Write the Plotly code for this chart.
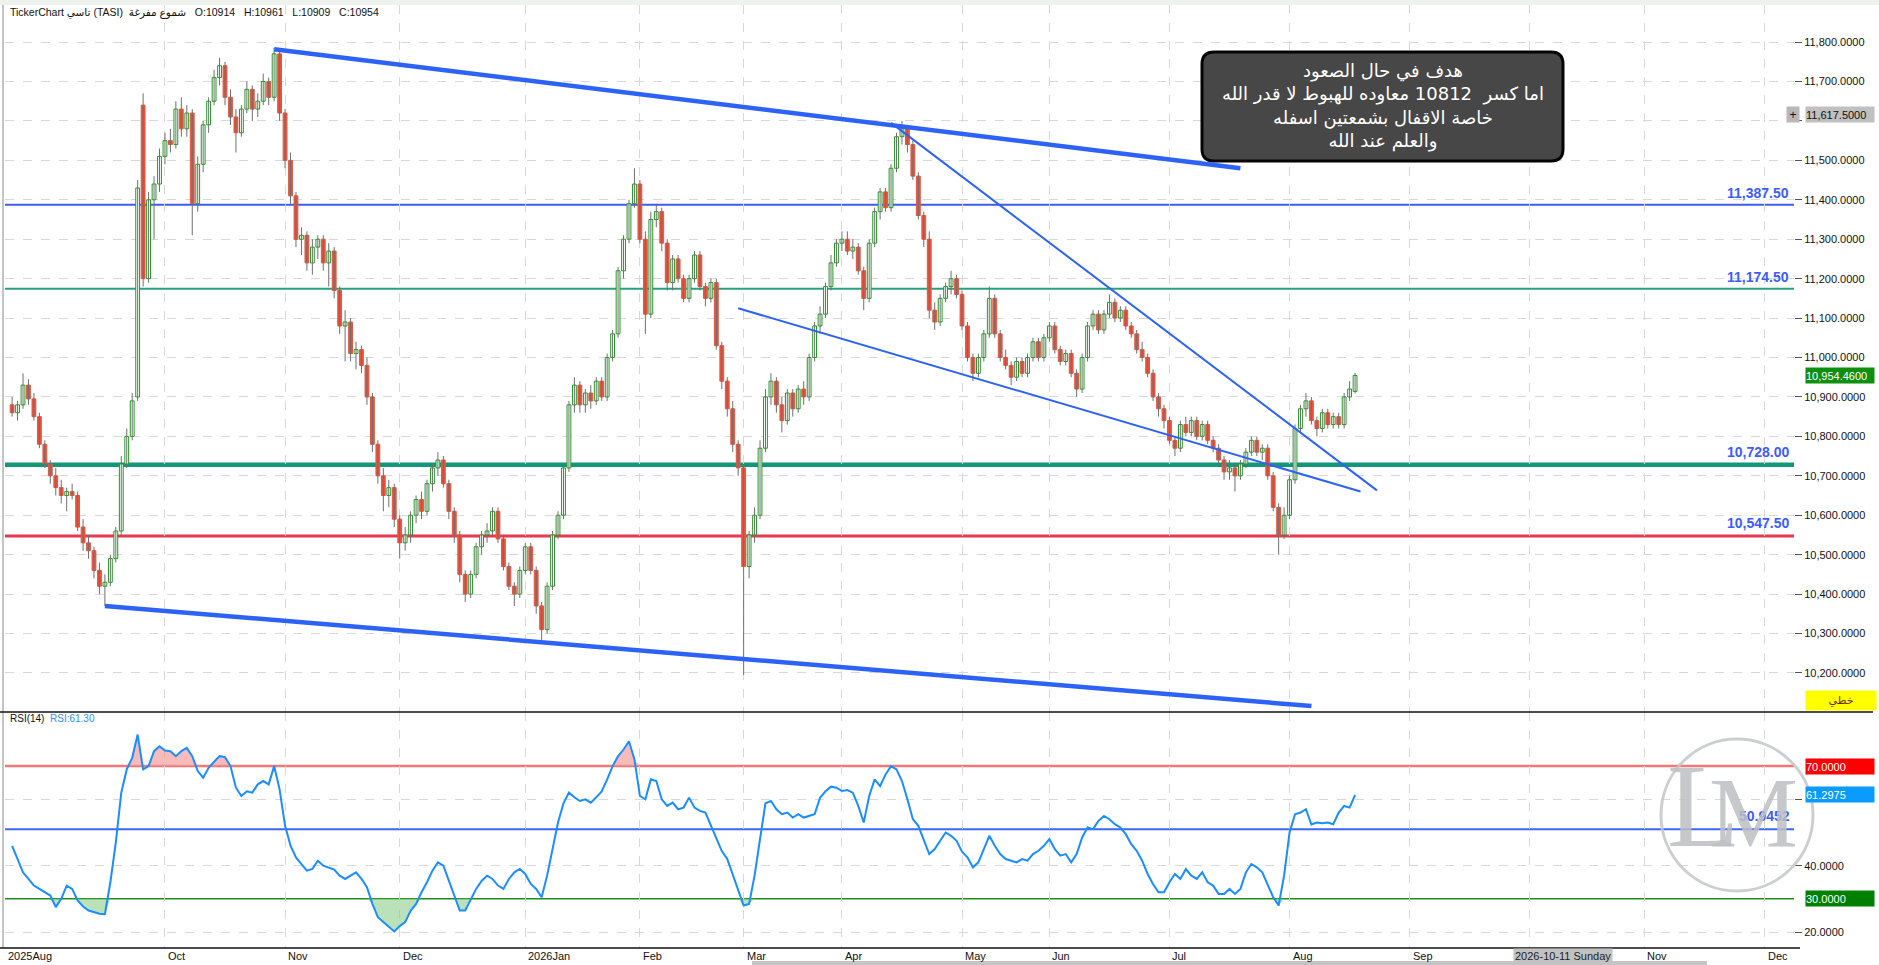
import numpy as np
import pandas as pd
import plotly.graph_objects as go

# ------------------------------------------------------------------ data
first_session = "2025-08-21"
calendar_end = "2026-12-31"
market_holidays = ["2025-09-23", "2026-02-22", "2026-03-19", "2026-03-22", "2026-03-23",
                   "2026-03-24", "2026-03-25", "2026-05-25", "2026-05-26", "2026-05-27",
                   "2026-05-28", "2026-05-31"]

opens = [
    10880, 10860, 10880, 10930, 10895, 10850, 10780, 10730, 10700, 10670,
    10650, 10660, 10650, 10570, 10530, 10510, 10460, 10420, 10430, 10490,
    10560, 10730, 10800, 10900, 11640, 11200, 11400, 11440, 11510, 11550,
    11540, 11630, 11580, 11620, 11390, 11490, 11590, 11650, 11710, 11740,
    11660, 11610, 11570, 11630, 11680, 11630, 11650, 11700, 11660, 11770,
    11620, 11500, 11410, 11300, 11310, 11240, 11280, 11300, 11240, 11270,
    11170, 11080, 11090, 11010, 11020, 10980, 10900, 10780, 10700, 10650,
    10670, 10590, 10530, 10550, 10600, 10640, 10610, 10680, 10720, 10740,
    10680, 10610, 10550, 10450, 10400, 10450, 10520, 10550, 10560, 10610,
    10540, 10470, 10420, 10400, 10460, 10520, 10460, 10370, 10310, 10420,
    10550, 10600, 10720, 10880, 10930, 10880, 10910, 10890, 10940, 10900,
    11000, 11060, 11220, 11300, 11390, 11440, 11300, 11110, 11350, 11370,
    11290, 11190, 11250, 11200, 11150, 11200, 11260, 11180, 11150, 11190,
    11030, 10940, 10870, 10780, 10720, 10470, 10550, 10600, 10770, 10900,
    10940, 10880, 10840, 10910, 10870, 10920, 10900, 11000, 11080, 11110,
    11180, 11240, 11290, 11300, 11270, 11280, 11220, 11150, 11290, 11370,
    11420, 11380, 11480, 11560, 11580, 11540, 11460, 11360, 11300, 11120,
    11090, 11150, 11180, 11200, 11160, 11080, 11000, 10960, 11000, 11060,
    11150, 11060, 11000, 10980, 10950, 10990, 10960, 11000, 11040, 11000,
    11050, 11080, 11020, 10990, 11010, 10960, 10920, 11000, 11080, 11110,
    11070, 11110, 11140, 11100, 11120, 11080, 11060, 11020, 11000, 10960,
    10900, 10870, 10840, 10790, 10770, 10830, 10810, 10840, 10800, 10830,
    10790, 10770, 10740, 10710, 10720, 10700, 10730, 10760, 10790, 10760,
    10770, 10700, 10620, 10550, 10600, 10690, 10820, 10870, 10890, 10840,
    10820, 10860, 10830, 10850, 10830, 10900, 10914]

highs = [
    10900, 10890, 10960, 10945, 10910, 10860, 10790, 10740, 10720, 10690,
    10670, 10680, 10660, 10590, 10550, 10520, 10480, 10450, 10500, 10570,
    10750, 10820, 10910, 11450, 11670, 11420, 11460, 11530, 11570, 11580,
    11650, 11660, 11640, 11630, 11510, 11600, 11660, 11730, 11760, 11750,
    11680, 11630, 11640, 11700, 11690, 11670, 11720, 11710, 11785, 11775,
    11630, 11520, 11420, 11330, 11320, 11300, 11310, 11310, 11290, 11280,
    11180, 11120, 11100, 11040, 11030, 11000, 10910, 10790, 10720, 10690,
    10680, 10600, 10570, 10610, 10650, 10660, 10690, 10730, 10760, 10750,
    10690, 10620, 10560, 10460, 10460, 10530, 10560, 10580, 10620, 10620,
    10550, 10480, 10430, 10470, 10530, 10530, 10470, 10380, 10430, 10560,
    10610, 10730, 10890, 10950, 10940, 10920, 10930, 10950, 10950, 11010,
    11070, 11230, 11310, 11400, 11480, 11450, 11320, 11370, 11390, 11380,
    11300, 11260, 11260, 11210, 11210, 11270, 11270, 11190, 11200, 11200,
    11040, 10950, 10890, 10790, 10730, 10560, 10620, 10790, 10920, 10960,
    10950, 10900, 10920, 10920, 10930, 10940, 11010, 11090, 11130, 11190,
    11260, 11300, 11320, 11320, 11300, 11290, 11230, 11300, 11380, 11430,
    11430, 11490, 11570, 11600, 11590, 11550, 11470, 11370, 11320, 11140,
    11160, 11190, 11220, 11210, 11170, 11090, 11010, 11010, 11070, 11180,
    11160, 11070, 11020, 10990, 11000, 11000, 11010, 11050, 11050, 11060,
    11090, 11090, 11030, 11020, 11020, 10970, 11010, 11090, 11120, 11120,
    11120, 11160, 11150, 11130, 11130, 11090, 11070, 11040, 11010, 10970,
    10910, 10880, 10850, 10800, 10840, 10850, 10850, 10850, 10840, 10840,
    10800, 10780, 10750, 10740, 10730, 10740, 10770, 10800, 10800, 10780,
    10780, 10710, 10630, 10620, 10700, 10830, 10880, 10910, 10900, 10850,
    10870, 10870, 10860, 10860, 10910, 10940, 10961]

lows = [
    10850, 10840, 10870, 10880, 10840, 10770, 10720, 10680, 10650, 10630,
    10610, 10640, 10560, 10510, 10490, 10440, 10400, 10370, 10420, 10480,
    10550, 10720, 10790, 10890, 11180, 11190, 11300, 11420, 11490, 11520,
    11530, 11560, 11560, 11310, 11370, 11470, 11570, 11640, 11690, 11640,
    11590, 11520, 11560, 11620, 11600, 11610, 11640, 11640, 11650, 11600,
    11480, 11390, 11280, 11260, 11220, 11210, 11250, 11220, 11180, 11150,
    11060, 10990, 10990, 10970, 10960, 10880, 10760, 10680, 10610, 10620,
    10570, 10490, 10510, 10530, 10580, 10590, 10600, 10660, 10700, 10670,
    10590, 10530, 10430, 10380, 10390, 10440, 10500, 10530, 10550, 10530,
    10460, 10410, 10370, 10390, 10450, 10450, 10350, 10280, 10300, 10410,
    10540, 10590, 10710, 10860, 10860, 10860, 10870, 10880, 10890, 10890,
    10990, 11050, 11200, 11290, 11380, 11290, 11060, 11100, 11330, 11270,
    11170, 11170, 11190, 11140, 11140, 11190, 11170, 11130, 11140, 11020,
    10920, 10850, 10760, 10700, 10195, 10440, 10530, 10590, 10760, 10880,
    10860, 10810, 10830, 10850, 10860, 10880, 10890, 10990, 11060, 11100,
    11170, 11230, 11270, 11260, 11250, 11210, 11120, 11140, 11280, 11350,
    11370, 11370, 11470, 11540, 11520, 11450, 11350, 11280, 11100, 11070,
    11080, 11140, 11160, 11150, 11070, 10990, 10940, 10950, 10990, 11050,
    11050, 10990, 10970, 10930, 10940, 10950, 10950, 10990, 10990, 10990,
    11040, 11010, 10980, 10980, 10950, 10900, 10910, 10990, 11070, 11060,
    11060, 11100, 11090, 11090, 11070, 11050, 11010, 10990, 10950, 10890,
    10850, 10820, 10780, 10750, 10760, 10800, 10800, 10790, 10790, 10780,
    10760, 10730, 10690, 10690, 10660, 10690, 10720, 10750, 10750, 10740,
    10690, 10610, 10500, 10540, 10590, 10680, 10810, 10850, 10830, 10800,
    10810, 10820, 10820, 10820, 10820, 10890, 10909]

closes = [
    10860, 10880, 10930, 10895, 10850, 10780, 10730, 10700, 10670, 10650,
    10660, 10650, 10570, 10530, 10510, 10460, 10420, 10430, 10490, 10560,
    10730, 10800, 10890, 11430, 11200, 11400, 11440, 11510, 11550, 11540,
    11630, 11580, 11620, 11390, 11490, 11590, 11650, 11710, 11740, 11660,
    11610, 11570, 11630, 11680, 11630, 11650, 11700, 11660, 11770, 11620,
    11500, 11410, 11300, 11310, 11240, 11280, 11300, 11240, 11270, 11170,
    11080, 11090, 11010, 11020, 10980, 10900, 10780, 10700, 10650, 10670,
    10590, 10530, 10550, 10600, 10640, 10610, 10680, 10720, 10740, 10680,
    10610, 10550, 10450, 10400, 10450, 10520, 10550, 10560, 10610, 10540,
    10470, 10420, 10400, 10460, 10520, 10460, 10370, 10310, 10420, 10550,
    10600, 10720, 10880, 10930, 10880, 10910, 10890, 10940, 10900, 11000,
    11060, 11220, 11300, 11390, 11440, 11300, 11110, 11350, 11370, 11290,
    11190, 11250, 11200, 11150, 11200, 11260, 11180, 11150, 11190, 11030,
    10940, 10870, 10780, 10720, 10470, 10550, 10600, 10770, 10900, 10940,
    10880, 10840, 10910, 10870, 10920, 10900, 11000, 11080, 11110, 11180,
    11240, 11290, 11300, 11270, 11280, 11220, 11150, 11290, 11370, 11420,
    11380, 11480, 11560, 11580, 11540, 11460, 11360, 11300, 11120, 11090,
    11150, 11180, 11200, 11160, 11080, 11000, 10960, 11000, 11060, 11150,
    11060, 11000, 10980, 10950, 10990, 10960, 11000, 11040, 11000, 11050,
    11080, 11020, 10990, 11010, 10960, 10920, 11000, 11080, 11110, 11070,
    11110, 11140, 11100, 11120, 11080, 11060, 11020, 11000, 10960, 10900,
    10870, 10840, 10790, 10770, 10830, 10810, 10840, 10800, 10830, 10790,
    10770, 10740, 10710, 10720, 10700, 10730, 10760, 10790, 10760, 10770,
    10700, 10620, 10550, 10600, 10690, 10820, 10870, 10890, 10840, 10820,
    10860, 10830, 10850, 10830, 10900, 10920, 10954.46]

rsi_values = [
    46, 42, 38, 36, 34, 33, 32, 31, 27.5, 30,
    34, 33, 29.5, 27.7, 26.5, 26, 25.5, 25.4, 35, 47,
    62, 69, 72.5, 79.5, 69, 70, 74.5, 76, 74.7, 74.5,
    73, 74.5, 75.5, 73, 68.5, 66.5, 69.5, 71.3, 73, 72.7,
    70, 63.5, 61, 62.4, 62, 64.5, 65.5, 64.5, 70, 63,
    52, 46, 42.5, 40.5, 38.5, 39, 41.5, 40, 39.5, 38.8,
    37, 36, 37, 38, 36, 33.5, 28.5, 24.5, 23, 21.5,
    20.2, 21.8, 23, 26.4, 28.5, 32, 35, 38.5, 41, 40,
    35.4, 31, 26.5, 26.5, 30, 33, 35.4, 37, 36, 34,
    33, 36, 38, 39, 37.5, 34.5, 33, 30.5, 37, 45,
    53, 58.8, 62, 60.6, 59.5, 60, 59, 60.6, 62.4, 66,
    70, 73, 75, 77.5, 72, 61, 60, 66, 65.5, 60,
    58, 59, 57, 57.5, 60.5, 57.5, 56.5, 56, 52, 48,
    44.4, 42, 37.5, 32.5, 28, 28.5, 37, 48, 58.8, 59.5,
    57, 55.5, 56, 54.5, 55.5, 54.5, 55, 55.5, 60.5, 62.4,
    63.8, 63.5, 62.5, 62.8, 62, 58, 53, 61, 66, 64,
    67.5, 70, 69, 65.5, 60, 54, 52, 47.5, 43.5, 45,
    47.5, 50, 49, 47.5, 44.2, 42.5, 39.5, 41, 45, 49,
    46, 43.5, 42, 41.5, 41, 42, 41.5, 43.5, 44.5, 46,
    48, 45, 43, 43.5, 41, 43.5, 48.5, 51.5, 51, 53.5,
    55, 54, 52.5, 51.5, 49.5, 46.5, 44.5, 41.5, 37.5, 34.4,
    32, 32, 35, 37.5, 36, 39, 37, 36, 38, 35,
    34, 31.5, 31.5, 33, 31.5, 33, 38, 40.5, 39.5, 38,
    34, 30.5, 28, 37, 50, 55.5, 56, 57, 52.4, 53,
    52.8, 53, 52.5, 56, 58, 57.5, 61.2975]

level_prices = [11387.5, 11174.5, 10728.0, 10547.5]
level_colors = ["#3d5cf0", "#2aa07f", "#12977a", "#e8384f"]
level_widths = [2, 2, 4.5, 3]

trend_from_dates = ["2025-10-29", "2025-09-15", "2026-04-14", "2026-02-26"]
trend_from_prices = [11782, 10370, 11595, 11125]
trend_to_dates = ["2026-07-20", "2026-08-06", "2026-08-24", "2026-08-19"]
trend_to_prices = [11480, 10116, 10663, 10660]
trend_widths = [4.5, 4.5, 2, 2]

rsi_levels = [70, 50.9452, 30]
rsi_level_colors = ["#f27878", "#3d66ff", "#1f8a1f"]
rsi_level_widths = [2.5, 2, 1.5]

price_ticks = list(range(10200, 11801, 100))
rsi_ticks = [20, 40, 60]

month_tick_keys = ["2025-10", "2025-11", "2025-12", "2026-01", "2026-02", "2026-03", "2026-04",
                   "2026-05", "2026-06", "2026-07", "2026-08", "2026-09", "2026-10", "2026-11",
                   "2026-12"]
month_tick_texts = ["Oct", "Nov", "Dec", "2026Jan", "Feb", "Mar", "Apr", "May", "Jun", "Jul",
                    "Aug", "Sep", "Oct", "Nov", "Dec"]
first_month_text = "2025Aug"

crosshair_date = "2026-10-11"
crosshair_date_text = "2026-10-11 Sunday"
crosshair_price = 11617.5

note_lines = ["هدف في حال الصعود",
              "اما كسر  10812 معاوده للهبوط لا قدر الله",
              "خاصة الاقفال بشمعتين اسفله",
              "والعلم عند الله"]
instrument_text = "TickerChart تاسي (TASI)  شموع مفرغة"
chart_type_tag = "خطي"

# ------------------------------------------------------------------ geometry helpers
W, H = 1879, 965
ML, MR = 5, 85
PW = W - ML - MR


def px(x):
    return (x - ML) / PW


def py(y):
    return (H - y) / H


cal = pd.bdate_range(first_session, calendar_end, freq="C",
                     weekmask="Sun Mon Tue Wed Thu", holidays=market_holidays)


def pos(d):
    return float(cal.get_loc(pd.Timestamp(d)))


n = len(closes)
idx = np.arange(n)
o = np.array(opens, float)
h = np.array(highs, float)
l = np.array(lows, float)
c = np.array(closes, float)
r = np.array(rsi_values, float)

x_range = [-1.3, 326.4]
price_range = [10101, 11894]
rsi_range = [15.2, 86.3]
price_dom = [py(712), py(5)]
rsi_dom = [py(948), py(712)]

tick_pos = [float(cal.searchsorted(pd.Timestamp(k + "-01"))) for k in month_tick_keys]

grid_c = "#d8d8d8"
up_edge, dn_fill = "#1f9a1f", "#e8533d"

fig = go.Figure()

# wicks
wx = np.column_stack([idx, idx, np.full(n, np.nan)]).ravel()
wy = np.column_stack([l, h, np.full(n, np.nan)]).ravel()
fig.add_trace(go.Scatter(x=wx, y=wy, mode="lines", line=dict(color="#6f6f6f", width=1),
                         xaxis="x", yaxis="y", hoverinfo="skip"))
# bodies (hollow up candles)
up = c >= o
fig.add_trace(go.Bar(x=idx, y=np.maximum(np.abs(c - o), 3), base=np.minimum(o, c), width=0.7,
                     marker=dict(color=np.where(up, "#ffffff", dn_fill),
                                 line=dict(color=np.where(up, up_edge, dn_fill), width=1)),
                     xaxis="x", yaxis="y", hoverinfo="skip"))

# RSI fills
ob_base = np.full(n, float(rsi_levels[0]))
os_base = np.full(n, float(rsi_levels[2]))
fig.add_trace(go.Scatter(x=idx, y=ob_base, mode="lines", line=dict(width=0), xaxis="x2", yaxis="y2",
                         hoverinfo="skip"))
fig.add_trace(go.Scatter(x=idx, y=np.maximum(r, rsi_levels[0]), mode="lines", line=dict(width=0),
                         fill="tonexty", fillcolor="rgba(243,150,150,0.65)", xaxis="x2", yaxis="y2",
                         hoverinfo="skip"))
fig.add_trace(go.Scatter(x=idx, y=os_base, mode="lines", line=dict(width=0), xaxis="x2", yaxis="y2",
                         hoverinfo="skip"))
fig.add_trace(go.Scatter(x=idx, y=np.minimum(r, rsi_levels[2]), mode="lines", line=dict(width=0),
                         fill="tonexty", fillcolor="rgba(140,205,140,0.6)", xaxis="x2", yaxis="y2",
                         hoverinfo="skip"))
fig.add_trace(go.Scatter(x=idx, y=r, mode="lines", line=dict(color="#1a8dff", width=2),
                         xaxis="x2", yaxis="y2", hoverinfo="skip"))

shapes = []
annotations = []

# top strip, left border, separators
shapes.append(dict(type="rect", xref="paper", yref="paper", x0=px(0), x1=px(W), y0=py(5), y1=py(0),
                   fillcolor="#edf2ed", line=dict(width=0)))
shapes.append(dict(type="line", xref="paper", yref="paper", x0=px(3), x1=px(3), y0=py(948), y1=py(5),
                   line=dict(color="#8a8a8a", width=1)))
shapes.append(dict(type="line", xref="paper", yref="paper", x0=px(0), x1=px(1873), y0=py(712), y1=py(712),
                   line=dict(color="#111111", width=1.5)))
shapes.append(dict(type="line", xref="paper", yref="paper", x0=px(0), x1=px(1800), y0=py(948), y1=py(948),
                   line=dict(color="#111111", width=1.5)))
shapes.append(dict(type="rect", xref="paper", yref="paper", x0=px(752), x1=px(1707), y0=py(965), y1=py(961),
                   fillcolor="#c4c4c4", line=dict(width=0)))

# support / resistance levels
for v, col, w in zip(level_prices, level_colors, level_widths):
    shapes.append(dict(type="line", xref="x", yref="y", x0=x_range[0], x1=x_range[1], y0=v, y1=v,
                       line=dict(color=col, width=w), layer="below"))
    annotations.append(dict(xref="paper", yref="y", x=px(1791), y=v, xanchor="right", yanchor="bottom",
                            yshift=1 + w / 2, text=f"<b>{v:,.2f}</b>", showarrow=False,
                            font=dict(family="Liberation Sans", size=14, color="#3d5cff")))

# trend lines
for d0, p0, d1, p1, w in zip(trend_from_dates, trend_from_prices, trend_to_dates, trend_to_prices, trend_widths):
    shapes.append(dict(type="line", xref="x", yref="y", x0=pos(d0), y0=p0, x1=pos(d1), y1=p1,
                       line=dict(color="#2d62f6", width=w)))

# RSI levels
for v, col, w in zip(rsi_levels, rsi_level_colors, rsi_level_widths):
    shapes.append(dict(type="line", xref="x2", yref="y2", x0=x_range[0], x1=x_range[1], y0=v, y1=v,
                       line=dict(color=col, width=w), layer="below"))
annotations.append(dict(xref="paper", yref="y2", x=px(1792), y=rsi_levels[1], xanchor="right",
                        yanchor="bottom", yshift=3, text=f"<b>{rsi_levels[1]:.4f}</b>", showarrow=False,
                        font=dict(family="Liberation Sans", size=14, color="#3d5cff")))

# note box (rounded)
bx0, bx1, by0, by1 = px(1202), px(1563), py(161), py(52)
rx, ry = 12 / PW, 12 / H
path = (f"M {bx0+rx},{by1} L {bx1-rx},{by1} Q {bx1},{by1} {bx1},{by1-ry} "
        f"L {bx1},{by0+ry} Q {bx1},{by0} {bx1-rx},{by0} L {bx0+rx},{by0} "
        f"Q {bx0},{by0} {bx0},{by0+ry} L {bx0},{by1-ry} Q {bx0},{by1} {bx0+rx},{by1} Z")
shapes.append(dict(type="path", xref="paper", yref="paper", path=path, fillcolor="#474747",
                   line=dict(color="#050505", width=3)))
annotations.append(dict(xref="paper", yref="paper", x=(bx0 + bx1) / 2, y=(by0 + by1) / 2,
                        xanchor="center", yanchor="middle", showarrow=False, align="center",
                        text="<br>".join(note_lines),
                        font=dict(family="DejaVu Sans", size=18, color="#ffffff")))

# header
annotations.append(dict(xref="paper", yref="paper", x=px(8), y=py(12), xanchor="left", yanchor="middle",
                        showarrow=False,
                        text=(instrument_text + "\u00a0\u00a0\u00a0" +
                              f"O:{opens[-1]:.0f}\u00a0\u00a0\u00a0H:{highs[-1]:.0f}\u00a0\u00a0\u00a0"
                              f"L:{lows[-1]:.0f}\u00a0\u00a0\u00a0C:{closes[-1]:.0f}"),
                        font=dict(family="Liberation Sans, DejaVu Sans", size=10.5, color="#111111")))
annotations.append(dict(xref="paper", yref="paper", x=px(8), y=py(719), xanchor="left", yanchor="middle",
                        showarrow=False, text="RSI(14)",
                        font=dict(family="Liberation Sans", size=10, color="#111111")))
annotations.append(dict(xref="paper", yref="paper", x=px(48), y=py(719), xanchor="left", yanchor="middle",
                        showarrow=False, text=f"RSI:{rsi_values[-1]:.2f}",
                        font=dict(family="Liberation Sans", size=10, color="#3090f0")))

# month labels on the time axis (the crosshair date tag covers its own month)
cross_month = crosshair_date[:7]
annotations.append(dict(xref="x2", yref="paper", x=x_range[0], y=py(956), xanchor="left", yanchor="middle",
                        xshift=1, showarrow=False, text=first_month_text,
                        font=dict(family="Liberation Sans", size=11, color="#111111")))
for key, tp, tt in zip(month_tick_keys, tick_pos, month_tick_texts):
    if key == cross_month:
        continue
    annotations.append(dict(xref="x2", yref="paper", x=tp, y=py(956), xanchor="left", yanchor="middle",
                            xshift=1, showarrow=False, text=tt,
                            font=dict(family="Liberation Sans", size=11, color="#111111")))
annotations.append(dict(xref="x2", yref="paper", x=pos(crosshair_date), y=py(956), xanchor="center",
                        yanchor="middle", showarrow=False, text=crosshair_date_text, bgcolor="#c2c2c2",
                        borderpad=1, font=dict(family="Liberation Sans", size=11, color="#222222")))

# price-side tags


def tag(yref, yv, text, bg, fg="#ffffff", width=68):
    return dict(xref="paper", yref=yref, x=px(1805), y=yv, xanchor="left", yanchor="middle",
                showarrow=False, text=text, bgcolor=bg, width=width, height=15, align="left",
                borderpad=0, font=dict(family="Liberation Sans", size=11, color=fg))


annotations.append(tag("y", crosshair_price, f"{crosshair_price:,.4f}", "#c0c0c0", "#111111"))
annotations.append(dict(xref="paper", yref="y", x=px(1793), y=crosshair_price, xanchor="center",
                        yanchor="middle", showarrow=False, text="+", bgcolor="#b8b8b8", width=10,
                        height=13, font=dict(family="Liberation Sans", size=12, color="#111111")))
annotations.append(tag("y", closes[-1], f"{closes[-1]:,.4f}", "#0f8f0f"))
annotations.append(dict(xref="paper", yref="paper", x=px(1805), y=py(700), xanchor="left",
                        yanchor="middle", showarrow=False, text=chart_type_tag, bgcolor="#ffff00",
                        width=68, height=17, align="center",
                        font=dict(family="DejaVu Sans", size=11, color="#6a2a00")))
annotations.append(tag("y2", rsi_levels[0], f"{rsi_levels[0]:.4f}", "#ff0000"))
annotations.append(tag("y2", rsi_values[-1], f"{rsi_values[-1]:.4f}", "#0a9bff"))
annotations.append(tag("y2", rsi_levels[2], f"{rsi_levels[2]:.4f}", "#008000"))

# tick labels hidden behind the tags are left blank (tick marks and grid stay)
price_ticktext = ["" if abs(t - crosshair_price) < 40 else f"{t:,.4f}" for t in price_ticks]
rsi_ticktext = ["" if abs(t - rsi_values[-1]) < 4 else f"{t:.4f}" for t in rsi_ticks]

# watermark
shapes.append(dict(type="circle", xref="paper", yref="paper", x0=px(1661), x1=px(1813), y0=py(891),
                   y1=py(739), line=dict(color="rgba(195,197,200,0.85)", width=3)))
annotations.append(dict(xref="paper", yref="paper", x=px(1703), y=py(806), xanchor="center",
                        yanchor="middle", showarrow=False, text="L",
                        font=dict(family="Liberation Serif", size=118, color="rgba(188,190,194,0.85)")))
annotations.append(dict(xref="paper", yref="paper", x=px(1753), y=py(812), xanchor="center",
                        yanchor="middle", showarrow=False, text="M",
                        font=dict(family="Liberation Serif", size=100, color="rgba(188,190,194,0.85)")))

axis_font = dict(family="Liberation Sans", size=11, color="#111111")
fig.update_layout(
    width=W, height=H, margin=dict(l=ML, r=MR, t=0, b=0),
    paper_bgcolor="white", plot_bgcolor="white", showlegend=False, hovermode=False,
    barmode="overlay",
    xaxis=dict(domain=[0, 1], anchor="y", range=x_range, tickvals=tick_pos, showticklabels=False,
               showgrid=True, gridcolor=grid_c, griddash="dash", gridwidth=1, zeroline=False,
               showline=False, ticks="", fixedrange=True),
    xaxis2=dict(domain=[0, 1], anchor="y2", matches="x", range=x_range, tickvals=tick_pos,
                showticklabels=False, showgrid=True, gridcolor=grid_c, griddash="dash", gridwidth=1,
                zeroline=False, showline=False, ticks="", fixedrange=True),
    yaxis=dict(domain=price_dom, anchor="x", side="right", range=price_range,
               tickvals=price_ticks, ticktext=price_ticktext, ticks="outside", ticklen=7,
               tickcolor="#555555", tickfont=axis_font, showgrid=True, gridcolor=grid_c,
               griddash="dash", zeroline=False, showline=False, fixedrange=True),
    yaxis2=dict(domain=rsi_dom, anchor="x2", side="right", range=rsi_range, tickvals=rsi_ticks,
                ticktext=rsi_ticktext, ticks="outside", ticklen=7, tickcolor="#555555", tickfont=axis_font,
                showgrid=True, gridcolor=grid_c, griddash="dash", zeroline=False, showline=False,
                fixedrange=True),
    shapes=shapes, annotations=annotations,
)

fig.write_html("out.html", config={"displayModeBar": False, "staticPlot": True},
               post_script="document.body.style.margin='0';document.body.style.overflow='hidden';")
